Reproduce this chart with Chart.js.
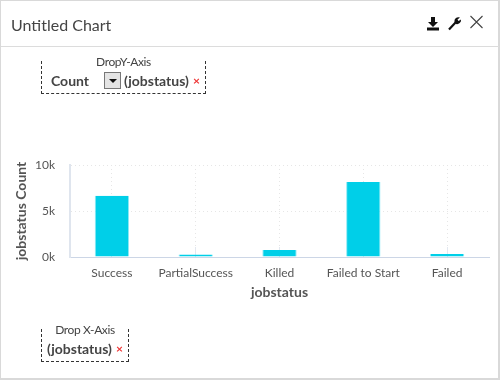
<!DOCTYPE html>
<html>
<head>
<meta charset="utf-8">
<title>Untitled Chart</title>
<script src="https://cdn.jsdelivr.net/npm/chart.js@4"></script>
<style>
  html, body { margin: 0; padding: 0; background: #fff; }
  body { width: 501px; height: 381px; overflow: hidden; font-family: Lato, sans-serif; color: #444; position: relative; }
  #frame { position: absolute; left: 0; top: 0; width: 497px; height: 377px; border: 2px solid #d9d9d9; border-left-width: 1px; border-top-width: 1px; border-right-width: 2px; }
  #chartBox { position: absolute; left: 0; top: 0; width: 501px; height: 381px; }
  #head { position: absolute; left: 1px; top: 46px; width: 498px; height: 1px; background: #dcdcdc; }
  #title { position: absolute; left: 11px; top: 15px; font-size: 16px; line-height: 20px; color: #444; }
  .icon { position: absolute; }
  .drop { position: absolute; border: 1px dashed #333; border-top: none; box-sizing: border-box; }
  .drop .cap { position: absolute; left: 0; right: 0; text-align: center; font-size: 12px; line-height: 14px; color: #444; letter-spacing: -0.4px; }
  .drop b { position: absolute; font-size: 14px; line-height: 16px; color: #444; white-space: nowrap; }
  .drop .x { position: absolute; font-size: 12px; line-height: 14px; color: #ee3333; font-weight: bold; }
  .sel { position: absolute; left: 62px; top: 11px; width: 17px; height: 17px; border: 1px solid #777; background: #e4e4e4; box-sizing: border-box; }
  .sel:after { content: ""; position: absolute; left: 3.5px; top: 6px; border: 4px solid transparent; border-top: 4px solid #111; border-bottom: none; }
</style>
</head>
<body>
<div id="chartBox"><canvas id="myChart" width="501" height="381"></canvas></div>
<div id="frame"></div>
<div id="head"></div>
<div id="title">Untitled Chart</div>

<svg class="icon" style="left:426px;top:17px" width="14" height="14" viewBox="0 0 14 14">
  <path d="M5 0h4v5h3L7 10 2 5h3z M1 10.5h12v3H1z" fill="#111"/>
</svg>
<svg class="icon" style="left:447px;top:16px" width="15" height="15" viewBox="0 0 15 15">
  <path d="M2 13.5 L9 6" stroke="#111" stroke-width="2.2" fill="none"/>
  <path d="M7.5 6 A4 4 0 0 1 13 1.5 L10.5 3.5 L11.5 5 L14 3.5 A4 4 0 0 1 9 8z" fill="#111"/>
</svg>
<svg class="icon" style="left:469px;top:15px" width="15" height="14" viewBox="0 0 15 14">
  <path d="M1.5 1 L13.5 13 M13.5 1 L1.5 13" stroke="#444" stroke-width="1.1" fill="none"/>
</svg>

<div class="drop" style="left:41px;top:61px;width:165px;height:33px;">
  <div class="cap" style="top:-6px;">DropY-Axis</div>
  <b style="left:9px;top:12px;">Count</b>
  <div class="sel"></div>
  <b style="left:82px;top:12px;">(jobstatus)</b>
  <span class="x" style="left:151px;top:13px;">×</span>
</div>
<div class="drop" style="left:41px;top:329px;width:88px;height:33px;">
  <div class="cap" style="top:-6px;">Drop X-Axis</div>
  <b style="left:5px;top:12px;">(jobstatus)</b>
  <span class="x" style="left:74px;top:13px;">×</span>
</div>

<script>
const categories = ['Success', 'PartialSuccess', 'Killed', 'Failed to Start', 'Failed'];
const jobCounts = [6660, 280, 760, 8150, 330];
const yTicks = [0, 5000, 10000];

const config = {
  type: 'bar',
  data: {
    labels: categories,
    datasets: [{
      label: 'jobstatus Count',
      data: jobCounts,
      backgroundColor: '#00cfe8',
      borderColor: '#8fe9f4',
      borderWidth: { left: 1, right: 1, top: 0, bottom: 0 },
      categoryPercentage: 0.41,
      barPercentage: 1
    }]
  },
  options: {
    responsive: false,
    animation: false,
    layout: { padding: { left: 13, right: 12, top: 165, bottom: 80 } },
    plugins: { legend: { display: false }, tooltip: { enabled: false } },
    scales: {
      x: {
        // short solid stubs above the axis at each category
        grid: { color: '#e6e6e6', offset: false, tickLength: -10, tickColor: '#e3e8f0', tickBorderDash: [] },
        border: { color: '#ccd6e6', width: 1, dash: [1, 3] },
        ticks: { color: '#555', font: { family: 'Lato', size: 12 }, padding: 19, maxRotation: 0, autoSkip: false },
        title: { display: true, text: 'jobstatus', color: '#555', font: { family: 'Lato', size: 14, weight: 'bold' }, padding: { top: 1, bottom: 0 } },
        afterFit(scale) { scale.height = 44; }
      },
      y: {
        min: 0,
        max: 10000,
        afterBuildTicks(scale) { scale.ticks = yTicks.map(v => ({ value: v })); },
        grid: { color: '#e6e6e6', tickLength: 0 },
        border: { color: '#dfe5ee', width: 2, dash: [1, 3] },
        ticks: {
          color: '#555',
          font: { family: 'Lato', size: 12 },
          padding: 15,
          callback: v => (v / 1000) + 'k'
        },
        title: { display: true, text: 'jobstatus Count', color: '#555', font: { family: 'Lato', size: 14, weight: 'bold' }, padding: { top: 0, bottom: 0 } },
        afterFit(scale) { scale.width = 57; }
      }
    }
  }
};

const myChart = new Chart(document.getElementById('myChart'), config);
</script>
</body>
</html>
